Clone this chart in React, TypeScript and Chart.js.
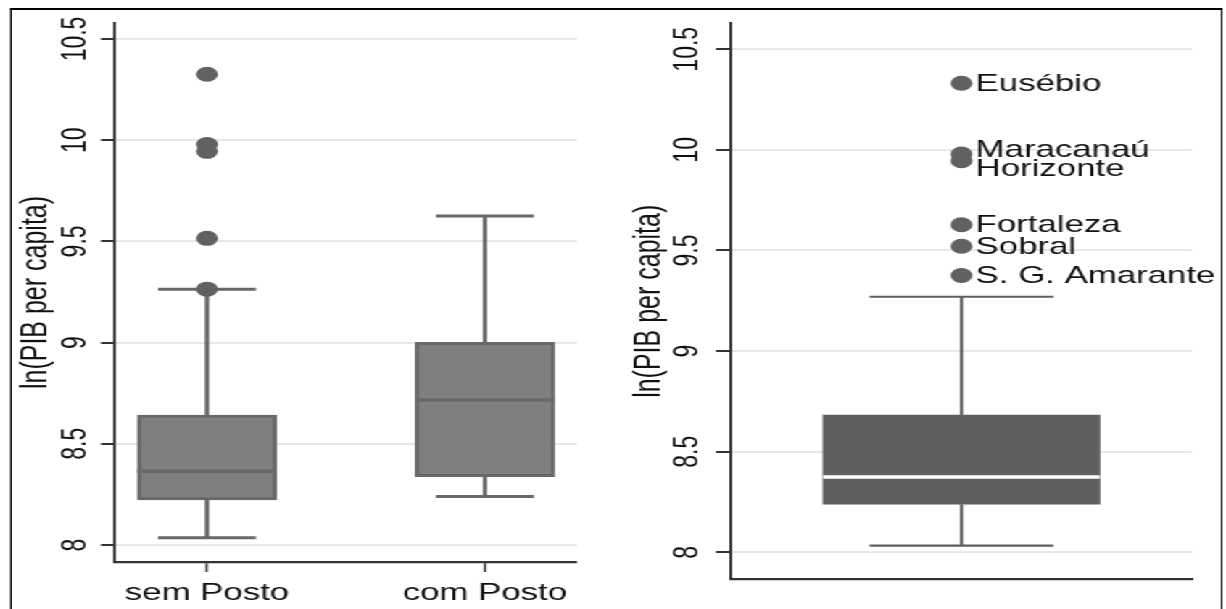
import React, { useEffect, useRef } from 'react';
import { Chart, registerables } from 'chart.js';

Chart.register(...registerables);

const FONT = '"Liberation Sans", Arial, Helvetica, sans-serif';
const STRETCH = 1.45; // the reference picture is stretched horizontally
const VIEW_W = 1226 / STRETCH;

// ---- shared axis ----
const Y_TICKS = [8, 8.5, 9, 9.5, 10, 10.5];
const Y_TITLE = 'ln(PIB per capita)';

// ---- left panel: by group ----
const GROUP_LABELS = ['sem Posto', 'com Posto'];
const GROUP_POSITIONS = [1, 2];
const GROUP_LOWER = [8.036, 8.239];
const GROUP_Q1 = [8.223, 8.338];
const GROUP_MEDIAN = [8.364, 8.716];
const GROUP_Q3 = [8.642, 9.001];
const GROUP_UPPER = [9.264, 9.625];
const GROUP_OUTLIER_POSITIONS = [1, 1, 1, 1, 1];
const GROUP_OUTLIER_VALUES = [10.326, 9.979, 9.945, 9.515, 9.264];

// ---- right panel: all municipalities ----
const ALL_POSITION = [1];
const ALL_LOWER = [8.033];
const ALL_Q1 = [8.239];
const ALL_MEDIAN = [8.374];
const ALL_Q3 = [8.682];
const ALL_UPPER = [9.27];
const CITY_NAMES = ['Eusébio', 'Maracanaú', 'Horizonte', 'Fortaleza', 'Sobral', 'S. G. Amarante'];
const CITY_VALUES = [10.331, 9.979, 9.946, 9.628, 9.521, 9.376];

// label style nudges (pixels) so stacked labels do not overlap
const LABEL_NUDGE: Record<string, number> = { 'Maracanaú': -5, 'Horizonte': 8 };

type Stats = { lower: number[]; q1: number[]; median: number[]; q3: number[]; upper: number[] };
type BoxStyle = { whiskerColor: string; whiskerWidth: number; capFrac: number; medianColor: string; medianWidth: number };

function makeBoxPlugin(stats: Stats, style: BoxStyle) {
  return {
    id: 'boxParts',
    afterDatasetDraw(chart: any, args: any) {
      const meta = args.meta;
      if (meta.type !== 'bar') return;
      const ctx = chart.ctx;
      const ys = chart.scales.y;
      const py = (v: number) => ys.getPixelForValue(v);
      ctx.save();
      ctx.lineCap = 'butt';
      meta.data.forEach((el: any, i: number) => {
        const cx = el.x;
        const w = el.width;
        const cap = w * style.capFrac;
        ctx.strokeStyle = style.whiskerColor;
        ctx.lineWidth = style.whiskerWidth;
        ctx.beginPath();
        ctx.moveTo(cx, py(stats.q3[i]));
        ctx.lineTo(cx, py(stats.upper[i]));
        ctx.moveTo(cx, py(stats.q1[i]));
        ctx.lineTo(cx, py(stats.lower[i]));
        ctx.moveTo(cx - cap / 2, py(stats.upper[i]));
        ctx.lineTo(cx + cap / 2, py(stats.upper[i]));
        ctx.moveTo(cx - cap / 2, py(stats.lower[i]));
        ctx.lineTo(cx + cap / 2, py(stats.lower[i]));
        ctx.stroke();
        ctx.strokeStyle = style.medianColor;
        ctx.lineWidth = style.medianWidth;
        ctx.beginPath();
        ctx.moveTo(cx - w / 2, py(stats.median[i]));
        ctx.lineTo(cx + w / 2, py(stats.median[i]));
        ctx.stroke();
      });
      ctx.restore();
    },
  };
}

const cityLabelPlugin = {
  id: 'cityLabels',
  afterDatasetsDraw(chart: any) {
    const meta = chart.getSortedVisibleDatasetMetas().find((m: any) => m.type === 'scatter');
    if (!meta) return;
    const ctx = chart.ctx;
    ctx.save();
    ctx.font = `24px ${FONT}`;
    ctx.fillStyle = '#111111';
    ctx.textAlign = 'left';
    ctx.textBaseline = 'middle';
    meta.data.forEach((el: any, i: number) => {
      const name = CITY_NAMES[i];
      const dy = (LABEL_NUDGE[name] ?? 0) + 1;
      ctx.fillText(name, el.x + 9.7, el.y + dy);
    });
    ctx.restore();
  },
};

function yScale(min: number, max: number, axisWidth: number, tickLen: number, tickPad: number, titlePad: number) {
  return {
    type: 'linear',
    min,
    max,
    afterFit: (s: any) => { s.width = axisWidth; },
    afterBuildTicks: (s: any) => { s.ticks = Y_TICKS.map((v) => ({ value: v })); },
    ticks: {
      callback: (v: any) => String(v),
      minRotation: 90,
      maxRotation: 90,
      crossAlign: 'center',
      padding: tickPad,
      color: '#111111',
      font: { family: FONT, size: 23 },
    },
    grid: {
      color: '#e8e8e8',
      lineWidth: 2,
      tickLength: tickLen,
      tickColor: '#333333',
      tickWidth: 2,
    },
    border: { display: true, color: '#333333', width: 1.9 },
    title: {
      display: true,
      text: Y_TITLE,
      color: '#111111',
      font: { family: FONT, size: 25 },
      padding: { top: titlePad, bottom: 0 },
    },
  };
}

export default function App() {
  const leftRef = useRef<HTMLCanvasElement | null>(null);
  const rightRef = useRef<HTMLCanvasElement | null>(null);

  useEffect(() => {
    if (!leftRef.current || !rightRef.current) return;

    const left = new Chart(leftRef.current, {
      type: 'bar',
      data: {
        datasets: [
          {
            type: 'bar',
            data: GROUP_POSITIONS.map((p, i) => ({ x: p, y: [GROUP_Q1[i], GROUP_Q3[i]] })),
            backgroundColor: '#7f7f7f',
            borderColor: '#686868',
            borderWidth: 3,
            borderSkipped: false,
            barThickness: 96.1,
            order: 2,
          } as any,
          {
            type: 'scatter',
            data: GROUP_OUTLIER_POSITIONS.map((p, i) => ({ x: p, y: GROUP_OUTLIER_VALUES[i] })),
            backgroundColor: '#616161',
            borderWidth: 0,
            pointRadius: 7.5,
            pointStyle: 'circle',
            order: 1,
          } as any,
        ],
      },
      options: {
        responsive: false,
        animation: false,
        events: [],
        layout: { padding: { left: 0, right: 12.1, top: 23, bottom: 0 } },
        plugins: { legend: { display: false }, tooltip: { enabled: false } },
        scales: {
          x: {
            type: 'linear',
            min: 0.669,
            max: 2.331,
            offset: false,
            afterFit: (s: any) => { s.height = 47; },
            afterBuildTicks: (s: any) => { s.ticks = GROUP_POSITIONS.map((v) => ({ value: v })); },
            ticks: {
              callback: (v: any) => GROUP_LABELS[GROUP_POSITIONS.indexOf(Number(v))] ?? '',
              maxRotation: 0,
              minRotation: 0,
              autoSkip: false,
              padding: 7,
              color: '#111111',
              font: { family: FONT, size: 24 },
            },
            grid: {
              offset: false,
              drawOnChartArea: false,
              tickLength: 10,
              tickColor: '#333333',
              tickWidth: 1.6,
            },
            border: { display: true, color: '#333333', width: 2.3 },
          },
          y: yScale(7.916, 10.579, 79.3, 9.7, -5.1, 10),
        } as any,
      },
      plugins: [
        makeBoxPlugin(
          { lower: GROUP_LOWER, q1: GROUP_Q1, median: GROUP_MEDIAN, q3: GROUP_Q3, upper: GROUP_UPPER },
          { whiskerColor: '#686868', whiskerWidth: 3, capFrac: 0.703, medianColor: '#686868', medianWidth: 3.5 }
        ),
      ],
    } as any);

    const right = new Chart(rightRef.current, {
      type: 'bar',
      data: {
        datasets: [
          {
            type: 'bar',
            data: ALL_POSITION.map((p, i) => ({ x: p, y: [ALL_Q1[i], ALL_Q3[i]] })),
            backgroundColor: '#5f5f5f',
            borderWidth: 0,
            barThickness: 190.8,
            order: 2,
          } as any,
          {
            type: 'scatter',
            data: CITY_VALUES.map((v) => ({ x: ALL_POSITION[0], y: v })),
            backgroundColor: '#616161',
            borderWidth: 0,
            pointRadius: 7.5,
            pointStyle: 'circle',
            order: 1,
          } as any,
        ],
      },
      options: {
        responsive: false,
        animation: false,
        events: [],
        layout: { padding: { left: 0, right: 22.9, top: 23.3, bottom: 0 } },
        plugins: { legend: { display: false }, tooltip: { enabled: false } },
        scales: {
          x: {
            type: 'linear',
            min: 0,
            max: 2,
            offset: false,
            afterFit: (s: any) => { s.height = 29.7; },
            ticks: { display: false },
            grid: { display: false, offset: false },
            border: { display: true, color: '#333333', width: 2.3 },
          },
          y: yScale(7.866, 10.629, 90.1, 10.3, -3.3, 19.5),
        } as any,
      },
      plugins: [
        makeBoxPlugin(
          { lower: ALL_LOWER, q1: ALL_Q1, median: ALL_MEDIAN, q3: ALL_Q3, upper: ALL_UPPER },
          { whiskerColor: '#5f5f5f', whiskerWidth: 2.2, capFrac: 0.665, medianColor: '#ffffff', medianWidth: 3.5 }
        ),
        cityLabelPlugin,
      ],
    } as any);

    return () => {
      left.destroy();
      right.destroy();
    };
  }, []);

  return (
    <div
      style={{
        position: 'absolute',
        left: 0,
        top: 0,
        width: VIEW_W,
        height: 609,
        overflow: 'hidden',
        background: '#ffffff',
        transform: `scaleX(${STRETCH})`,
        transformOrigin: '0 0',
      }}
    >
      <canvas ref={leftRef} width={410} height={609} style={{ position: 'absolute', left: 0, top: 0 }} />
      <canvas ref={rightRef} width={431} height={609} style={{ position: 'absolute', left: 414, top: 0 }} />
      <div
        style={{
          position: 'absolute',
          left: 6.9,
          top: 8,
          width: 836.5,
          height: 800,
          boxSizing: 'border-box',
          borderTop: '2px solid #000',
          borderLeft: `${2 / STRETCH}px solid #000`,
          borderRight: `${2 / STRETCH}px solid #000`,
          pointerEvents: 'none',
        }}
      />
    </div>
  );
}
